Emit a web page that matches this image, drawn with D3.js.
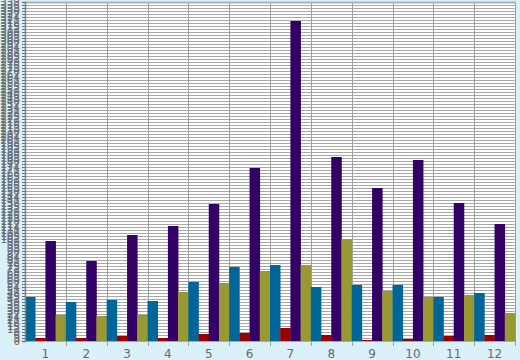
<!DOCTYPE html>
<html><head><meta charset="utf-8">
<script src="https://cdn.jsdelivr.net/npm/d3@7"></script>
<style>html,body{margin:0;padding:0;background:#daf1f9;}svg{display:block;}</style>
</head><body>
<svg id="c" width="520" height="360"></svg>
<script>
const months = ["1","2","3","4","5","6","7","8","9","10","11","12"];
const seriesNames = ["blue","red","purple","olive"];
const blueVals   = [44, 39, 41, 40, 59, 74, 76, 54, 56, 56, 44, 48];
const redVals    = [3, 3, 5, 3, 7, 8, 13, 6, 1, 2, 5, 6];
const purpleVals = [100, 80, 106, 115, 137, 173, 320, 184, 153, 181, 138, 117];
const oliveVals  = [26, 25, 26, 49, 58, 70, 76, 102, 50, 44, 46, 28];
const colors = ["#006699", "#990000", "#330066", "#999933"];
const yMax = 339;
const yTicks = d3.range(0, yMax + 1, 3);

const svg = d3.select("#c");
const L = 25, R = 515, T = 2, B = 341;
const x = d3.scaleBand().domain(months).range([L, R]).padding(0);
const xs = d3.scaleBand().domain(seriesNames).range([0, x.bandwidth()]).padding(0);
const y = d3.scaleLinear().domain([0, yMax]).range([B, T]);

svg.append("rect").attr("x", L).attr("y", T).attr("width", R - L).attr("height", B - T).attr("fill", "#ffffff");

// horizontal grid
svg.append("g").selectAll("line").data(yTicks).join("line")
  .attr("x1", L).attr("x2", R)
  .attr("y1", d => Math.round(y(d)) + 0.5).attr("y2", d => Math.round(y(d)) + 0.5)
  .attr("stroke", "#a8a8a8").attr("stroke-width", 1);

// vertical grid at category boundaries
svg.append("g").selectAll("line").data(months.slice(1)).join("line")
  .attr("x1", d => Math.round(x(d)) + 0.5).attr("x2", d => Math.round(x(d)) + 0.5)
  .attr("y1", T).attr("y2", B + 5)
  .attr("stroke", "#a0a0a0");
svg.append("line").attr("x1", R + 0.5).attr("x2", R + 0.5).attr("y1", T).attr("y2", B + 5).attr("stroke", "#a0a0a0");

// top border
svg.append("line").attr("x1", L).attr("x2", R + 1).attr("y1", T + 0.5).attr("y2", T + 0.5).attr("stroke", "#a8b4b8").attr("stroke-width", 2);

// bars
const allVals = [blueVals, redVals, purpleVals, oliveVals];
const rows = [];
months.forEach((m, i) => seriesNames.forEach((s, j) => rows.push({m, s, v: allVals[j][i], c: colors[j]})));
svg.append("g").selectAll("rect").data(rows).join("rect")
  .attr("x", d => x(d.m) + xs(d.s))
  .attr("width", xs.bandwidth() + 0.3)
  .attr("y", d => y(d.v))
  .attr("height", d => B - y(d.v))
  .attr("fill", d => d.c);

// y axis
const yAxis = d3.axisLeft(y).tickValues(yTicks).tickSize(3).tickPadding(2);
const gy = svg.append("g").attr("transform", `translate(${L},0)`).call(yAxis);
gy.select(".domain").attr("stroke", "#808080").attr("stroke-width", 1.5);
gy.selectAll(".tick line").attr("stroke", "#707070");
gy.selectAll("text").attr("fill", "#6e6e6e").style("font-family", "DejaVu Sans Mono").style("font-size", "11px");

// x axis
const xAxis = d3.axisBottom(x).tickSize(0).tickPadding(8);
const gx = svg.append("g").attr("transform", `translate(0,${B})`).call(xAxis);
gx.select(".domain").remove();
gx.selectAll("text").attr("fill", "#6a6a6a").style("font-family", "DejaVu Sans").style("font-size", "12px");
</script>
</body></html>
